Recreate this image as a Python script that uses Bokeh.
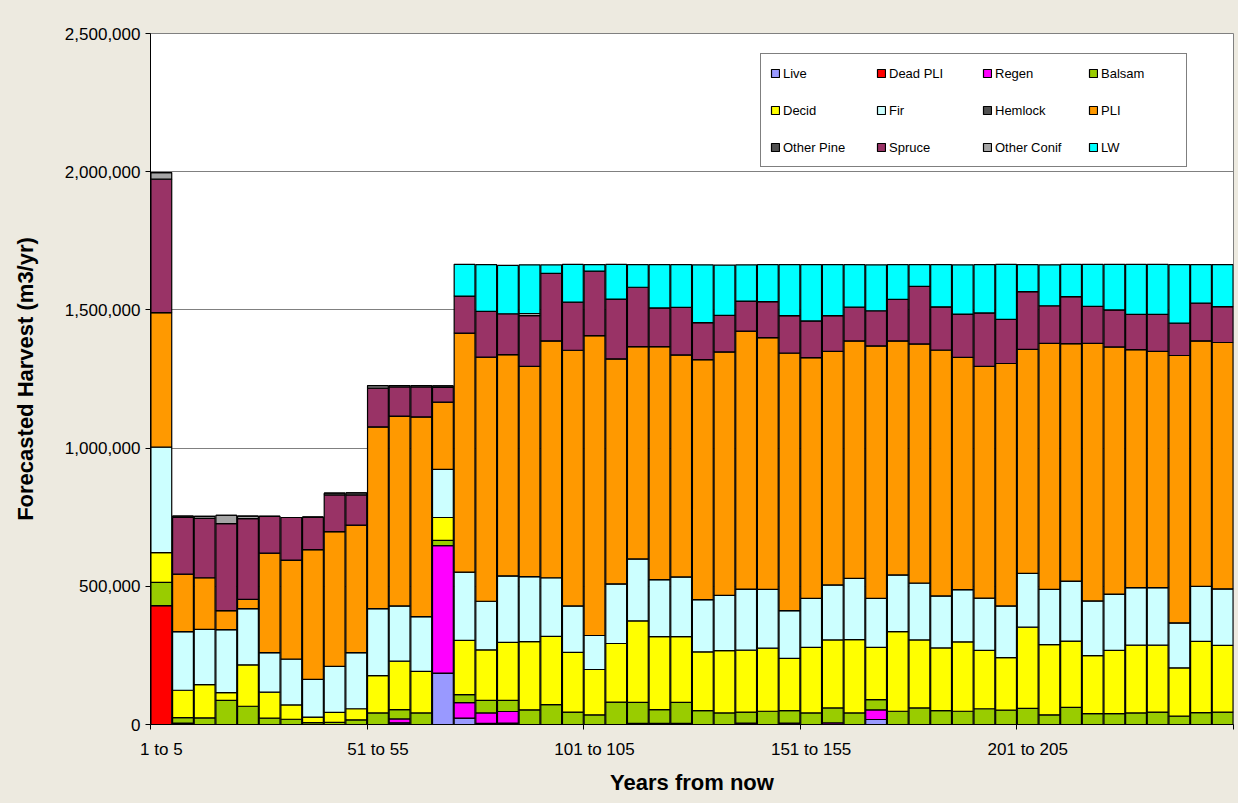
from bokeh.plotting import figure
from bokeh.models import (ColumnDataSource, Range1d, FixedTicker, NumeralTickFormatter,
                          Legend, LegendItem, GlobalInlineStyleSheet)
from bokeh.embed import file_html
from bokeh.resources import INLINE

categories = [
    "1 to 5", "6 to 10", "11 to 15", "16 to 20", "21 to 25", "26 to 30", "31 to 35", "36 to 40",
    "41 to 45", "46 to 50", "51 to 55", "56 to 60", "61 to 65", "66 to 70", "71 to 75", "76 to 80",
    "81 to 85", "86 to 90", "91 to 95", "96 to 100", "101 to 105", "106 to 110", "111 to 115",
    "116 to 120", "121 to 125", "126 to 130", "131 to 135", "136 to 140", "141 to 145", "146 to 150",
    "151 to 155", "156 to 160", "161 to 165", "166 to 170", "171 to 175", "176 to 180", "181 to 185",
    "186 to 190", "191 to 195", "196 to 200", "201 to 205", "206 to 210", "211 to 215", "216 to 220",
    "221 to 225", "226 to 230", "231 to 235", "236 to 240", "241 to 245", "246 to 250",
]

series_names = ["Live", "Dead PLI", "Regen", "Balsam", "Decid", "Fir", "Hemlock", "PLI",
                "Other Pine", "Spruce", "Other Conif", "LW"]

live = [0, 0, 0, 0, 0, 0, 0, 0, 0, 0,
        0, 6000, 0, 186000, 23000, 4000, 5000, 0, 0, 0,
        0, 0, 0, 0, 0, 0, 0, 0, 0, 0,
        0, 0, 0, 18000, 0, 0, 0, 0, 0, 0,
        0, 0, 0, 0, 0, 0, 0, 0, 0, 0]
dead_pli = [430000, 5000, 0, 0, 0, 0, 0, 0, 0, 0,
            0, 0, 0, 0, 0, 0, 0, 0, 0, 0,
            0, 0, 0, 0, 0, 0, 0, 0, 0, 0,
            0, 0, 0, 0, 0, 0, 0, 0, 0, 0,
            0, 0, 0, 0, 0, 0, 0, 0, 0, 0]
regen = [0, 0, 0, 0, 0, 0, 0, 0, 0, 0,
         0, 14000, 0, 461000, 56000, 38000, 42000, 0, 0, 0,
         0, 0, 4000, 4000, 4000, 0, 0, 5000, 0, 5000,
         0, 6000, 0, 35000, 0, 0, 0, 0, 0, 0,
         0, 0, 0, 0, 0, 0, 0, 0, 0, 0]
balsam = [84000, 20000, 24000, 87000, 66000, 23000, 19000, 7000, 8000, 17000,
          42000, 34000, 42000, 19000, 29000, 45000, 40000, 53000, 72000, 45000,
          35000, 81000, 76000, 50000, 76000, 50000, 42000, 40000, 48000, 45000,
          42000, 54000, 42000, 37000, 48000, 60000, 50000, 48000, 57000, 52000,
          58000, 35000, 62000, 39000, 39000, 42000, 45000, 30000, 43000, 45000]
decid = [108000, 99000, 120000, 28000, 150000, 94000, 52000, 20000, 36000, 40000,
         135000, 175000, 150000, 83000, 196000, 183000, 210000, 247000, 247000, 216000,
         164000, 212000, 295000, 264000, 238000, 213000, 225000, 224000, 228000, 189000,
         237000, 246000, 265000, 189000, 288000, 246000, 227000, 251000, 211000, 190000,
         294000, 254000, 240000, 210000, 229000, 245000, 242000, 175000, 258000, 241000]
fir = [382000, 212000, 200000, 228000, 203000, 143000, 166000, 136000, 166000, 203000,
       242000, 200000, 198000, 174000, 247000, 176000, 241000, 235000, 212000, 168000,
       123000, 216000, 224000, 206000, 216000, 189000, 200000, 221000, 213000, 173000,
       177000, 199000, 222000, 177000, 205000, 206000, 188000, 189000, 189000, 187000,
       195000, 200000, 217000, 198000, 204000, 208000, 208000, 163000, 199000, 205000]
hemlock = [0] * 50
pli = [486000, 208000, 187000, 69000, 34000, 360000, 358000, 470000, 488000, 461000,
       658000, 687000, 723000, 243000, 865000, 883000, 800000, 761000, 857000, 925000,
       1085000, 814000, 768000, 843000, 803000, 868000, 881000, 933000, 911000, 932000,
       871000, 845000, 859000, 914000, 847000, 865000, 890000, 840000, 839000, 877000,
       810000, 890000, 859000, 932000, 894000, 861000, 855000, 967000, 888000, 891000]
other_pine = [0] * 50
spruce = [483000, 205000, 215000, 315000, 292000, 133000, 154000, 117000, 133000, 110000,
          140000, 105000, 108000, 54000, 134000, 166000, 148000, 183000, 244000, 174000,
          233000, 216000, 215000, 140000, 172000, 134000, 132000, 109000, 130000, 135000,
          133000, 129000, 122000, 127000, 150000, 208000, 156000, 157000, 193000, 160000,
          209000, 136000, 170000, 134000, 134000, 128000, 134000, 117000, 137000, 130000]
other_conif = [24000, 5000, 7000, 30000, 9000, 0, 0, 0, 6000, 7000,
               9000, 5000, 5000, 5000, 0, 0, 0, 8000, 0, 0,
               0, 0, 0, 0, 0, 0, 0, 0, 0, 0,
               0, 0, 0, 0, 0, 0, 0, 0, 0, 0,
               0, 0, 0, 0, 0, 0, 0, 0, 0, 0]
lw = [0, 0, 0, 0, 0, 0, 0, 0, 0, 0,
      0, 0, 0, 0, 115000, 169000, 175000, 176000, 31000, 137000,
      24000, 126000, 82000, 157000, 155000, 209000, 182000, 131000, 134000, 185000,
      204000, 185000, 154000, 166000, 126000, 79000, 153000, 178000, 175000, 199000,
      98000, 148000, 117000, 152000, 165000, 181000, 181000, 212000, 139000, 152000]

y_ticks = [0, 500000, 1000000, 1500000, 2000000, 2500000]

series_values = [live, dead_pli, regen, balsam, decid, fir, hemlock, pli,
                 other_pine, spruce, other_conif, lw]
colors = ["#9999FF", "#FF0000", "#FF00FF", "#99CC00", "#FFFF00", "#CCFFFF", "#505050",
          "#FF9900", "#505050", "#993366", "#A6A6A6", "#00FFFF"]

BG = "#EDEAE0"
FONT = "Liberation Sans"

n = len(categories)
xpos = [i + 0.5 for i in range(n)]
data = {"x": xpos, "cat": categories}
for name, vals in zip(series_names, series_values):
    data[name] = vals
src = ColumnDataSource(data)

p = figure(width=1238, height=803, x_range=Range1d(0, n), y_range=Range1d(0, y_ticks[-1]),
           output_backend="svg", toolbar_location=None,
           min_border_left=150, min_border_right=5, min_border_top=33, min_border_bottom=79,
           background_fill_color="white", border_fill_color=BG)
p.stylesheets = [GlobalInlineStyleSheet(css="body { background: %s; }" % BG)]

renderers = p.vbar_stack(series_names, x="x", width=0.96, color=colors, line_color="black",
                         line_width=1.2, source=src)

# axes
p.xaxis.ticker = FixedTicker(ticks=[xpos[i] for i in range(0, n, 10)],
                             minor_ticks=[float(i) for i in range(0, n + 1, 10)])
p.xaxis.major_label_overrides = {xpos[i]: categories[i] for i in range(0, n, 10)}
p.xaxis.major_tick_in = 0
p.xaxis.major_tick_out = 0
p.xaxis.minor_tick_in = 0
p.xaxis.minor_tick_out = 5
p.xaxis.major_label_standoff = 10

p.yaxis.ticker = FixedTicker(ticks=y_ticks)
p.yaxis.formatter = NumeralTickFormatter(format="0,0")
p.yaxis.major_tick_in = 0
p.yaxis.major_tick_out = 5
p.yaxis.minor_tick_line_color = None
p.yaxis.major_label_standoff = 5

for ax in (p.xaxis[0], p.yaxis[0]):
    ax.axis_line_color = "black"
    ax.major_tick_line_color = "black"
    ax.major_label_text_font = FONT
    ax.major_label_text_font_size = "17px"
    ax.major_label_text_color = "black"
    ax.axis_label_text_font = FONT
    ax.axis_label_text_font_size = "22px"
    ax.axis_label_text_font_style = "bold"
    ax.axis_label_text_color = "black"
p.xaxis.minor_tick_line_color = "black"

p.xaxis.axis_label = "Years from now"
p.yaxis.axis_label = "Forecasted Harvest (m3/yr)"
p.xaxis.axis_label_standoff = 8
p.yaxis.axis_label_standoff = 24

p.xgrid.visible = False
p.ygrid.ticker = FixedTicker(ticks=y_ticks)
p.ygrid.grid_line_color = "#808080"
p.outline_line_color = "#808080"

legend = Legend(
    items=[LegendItem(label=name, renderers=[r]) for name, r in zip(series_names, renderers)],
    orientation="horizontal", ncols=4, location=(610, 557),
    glyph_width=10, glyph_height=10, label_standoff=3, label_width=76, label_height=20,
    spacing=17, padding=9, margin=0,
    label_text_font=FONT, label_text_font_size="13px", label_text_color="black",
    border_line_color="black", border_line_width=1, background_fill_color="white",
    background_fill_alpha=1.0,
)
p.add_layout(legend, "center")

open("out.html", "w").write(file_html(p, INLINE))
